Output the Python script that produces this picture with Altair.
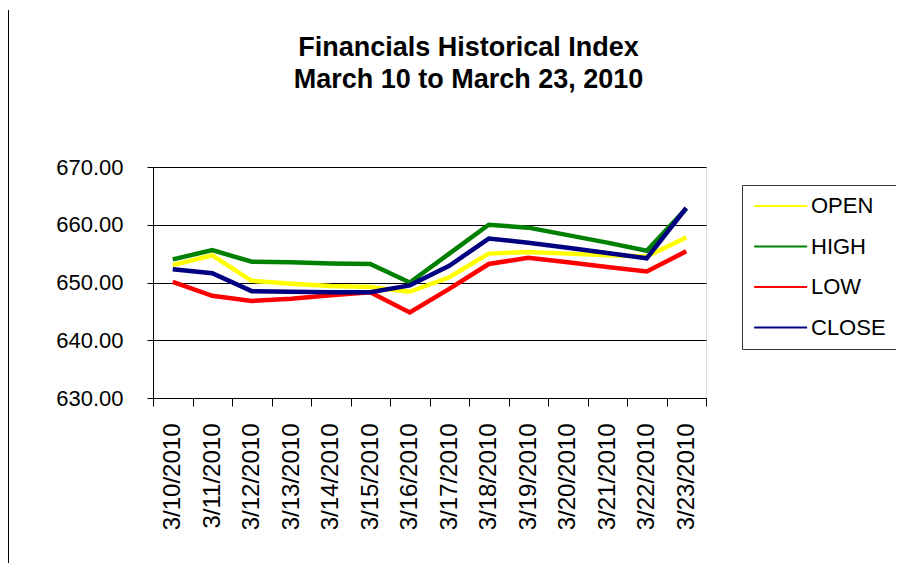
import altair as alt
import pandas as pd

dates = ["3/10/2010", "3/11/2010", "3/12/2010", "3/13/2010", "3/14/2010",
         "3/15/2010", "3/16/2010", "3/17/2010", "3/18/2010", "3/19/2010",
         "3/20/2010", "3/21/2010", "3/22/2010", "3/23/2010"]
open_v = [653.0, 654.7, 650.3, 649.8, 649.4, 649.2, 648.4, 650.9, 655.0, 655.3, 655.0, 654.7, 654.5, 657.8]
high_v = [654.0, 655.6, 653.6, 653.5, 653.3, 653.2, 650.0, 655.0, 660.0, 659.5, 658.2, 656.9, 655.5, 662.8]
low_v = [650.1, 647.7, 646.8, 647.2, 647.8, 648.3, 644.8, 648.9, 653.2, 654.3, 653.5, 652.7, 651.9, 655.4]
close_v = [652.3, 651.6, 648.5, 648.4, 648.3, 648.3, 649.5, 652.9, 657.6, 656.9, 656.0, 655.1, 654.2, 662.9]

series_names = ["OPEN", "HIGH", "LOW", "CLOSE"]
series_colors = ["#FFFF00", "#008000", "#FF0000", "#000080"]

rows = []
for name, vals in zip(series_names, [open_v, high_v, low_v, close_v]):
    for d, v in zip(dates, vals):
        rows.append({"date": d, "value": v, "series": name})
df = pd.DataFrame(rows)

FONT = "Liberation Sans"

lines = alt.Chart(df).mark_line(strokeWidth=4.5).encode(
    x=alt.X("date:O", sort=dates, bandPosition=0.5,
            scale=alt.Scale(type="band", paddingInner=0, paddingOuter=0),
            axis=alt.Axis(title=None, labelAngle=-90, tickBand="extent",
                          tickSize=8, tickColor="#000", domainColor="#000",
                          labelPadding=17, labelFontSize=24, labelFont=FONT,
                          labelColor="#000", grid=False)),
    y=alt.Y("value:Q",
            scale=alt.Scale(domain=[630, 670], nice=False, zero=False),
            axis=alt.Axis(title=None, values=[630, 640, 650, 660, 670], format=".2f",
                          tickSize=6, tickColor="#000", domainColor="#000",
                          labelPadding=24, labelFontSize=22, labelFont=FONT,
                          labelColor="#000", grid=True, gridColor="#000",
                          gridWidth=1, gridOpacity=1)),
    color=alt.Color("series:N",
                    scale=alt.Scale(domain=series_names, range=series_colors),
                    legend=alt.Legend(title=None, orient="none", legendX=589, legendY=18,
                                      symbolType="M-1,0H5", symbolSize=312,
                                      symbolStrokeWidth=2, labelFontSize=22,
                                      labelFont=FONT, labelColor="#000",
                                      labelOffset=37, rowPadding=18.5,
                                      padding=10, strokeColor="#333",
                                      fillColor="#FFFFFF")),
)

border = alt.Chart(pd.DataFrame({"k": [0]})).mark_rule(color="#000", strokeWidth=1).encode(
    x=alt.value(-144.5), y=alt.value(-157), y2=alt.value(400)
)

chart = alt.layer(border, lines).properties(
    width=553, height=231,
    padding={"left": 145, "top": 159, "right": 190, "bottom": 165},
    autosize=alt.AutoSizeParams(type="none"),
    title=alt.TitleParams(text=["Financials Historical Index", "March 10 to March 23, 2010"],
                          fontSize=27, font=FONT, fontWeight="bold", color="#000",
                          anchor="middle", offset=-84, lineHeight=32, dx=39),
).configure_view(fill="#C0C0C0", stroke="#808080", strokeWidth=2).configure(background="#FFFFFF")

chart.save("out.html", embed_options={"renderer": "svg", "actions": False})
